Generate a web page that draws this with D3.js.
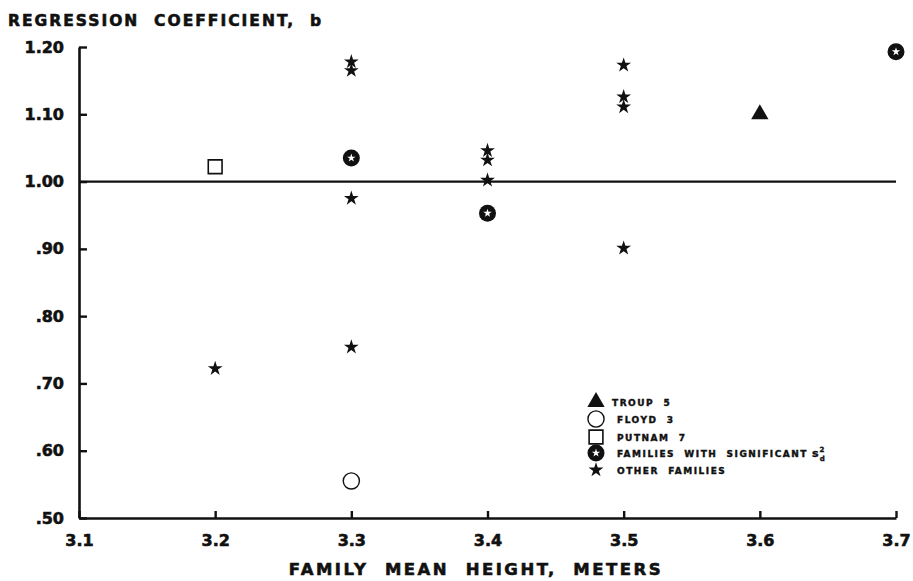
<!DOCTYPE html>
<html>
<head>
<meta charset="utf-8">
<script src="https://cdn.jsdelivr.net/npm/d3@7"></script>
<style>
  html, body { margin: 0; padding: 0; background: #fff; }
  svg { display: block; }
  text { font-family: "DejaVu Sans", sans-serif; font-weight: bold; fill: #111; stroke: #111; stroke-width: 0.6px; }
</style>
</head>
<body>
<svg id="chart" width="913" height="581"></svg>
<script>
// Regression coefficient b against family mean height (m)
const xTicks = [3.1, 3.2, 3.3, 3.4, 3.5, 3.6, 3.7];
const yTicks = [0.5, 0.6, 0.7, 0.8, 0.9, 1.0, 1.1, 1.2];

// Individual families
const troup5 = [[3.6, 1.10]];
const floyd3 = [[3.3, 0.555]];
const putnam7 = [[3.2, 1.022]];
// Families with significant deviation variance s²d
const significantFamilies = [[3.3, 1.035], [3.4, 0.953], [3.7, 1.193]];
// All remaining families
const otherFamilies = [
  [3.2, 0.722],
  [3.3, 1.178], [3.3, 1.165], [3.3, 0.975], [3.3, 0.754],
  [3.4, 1.046], [3.4, 1.032], [3.4, 1.002],
  [3.5, 1.173], [3.5, 1.126], [3.5, 1.111], [3.5, 0.901]
];
const referenceB = 1.0;

const legendLabels = ["TROUP  5", "FLOYD  3", "PUTNAM  7", "FAMILIES  WITH  SIGNIFICANT", "OTHER  FAMILIES"];

const svg = d3.select("#chart");
const x = d3.scaleLinear().domain([3.1, 3.7]).range([79, 896]);
const y = d3.scaleLinear().domain([0.5, 1.2]).range([518, 47]);

const ink = "#111";
const font = "'DejaVu Sans', sans-serif";

// Axes
const yAxis = d3.axisLeft(y)
  .tickValues(yTicks)
  .tickFormat(v => v >= 1 ? v.toFixed(2) : v.toFixed(2).replace(/^0/, ""))
  .tickSizeInner(-8).tickSizeOuter(0).tickPadding(15);
const xAxis = d3.axisBottom(x)
  .tickValues(xTicks)
  .tickFormat(d3.format(".1f"))
  .tickSizeInner(-7).tickSizeOuter(0).tickPadding(17);

const gy = svg.append("g").attr("transform", `translate(${x(3.1)},0)`).call(yAxis);
const gx = svg.append("g").attr("transform", `translate(0,${y(0.5)})`).call(xAxis);
[gx, gy].forEach(g => {
  g.select(".domain").attr("stroke", ink).attr("stroke-width", 2.6);
  g.selectAll(".tick line").attr("stroke", ink).attr("stroke-width", 2.4);
  g.selectAll(".tick text").attr("fill", ink).attr("stroke", ink).attr("stroke-width", 0.7)
    .style("font-family", font)
    .style("font-weight", "bold").style("font-size", "16px");
});

// Reference line at b = 1.00
svg.append("line")
  .attr("x1", x(3.1)).attr("x2", x(3.7))
  .attr("y1", y(referenceB)).attr("y2", y(referenceB))
  .attr("stroke", ink).attr("stroke-width", 2.2);

// Marker drawers
const star = d3.symbol().type(d3.symbolStar).size(68);
const innerStar = d3.symbol().type(d3.symbolStar).size(22);
const tri = d3.symbol().type(d3.symbolTriangle).size(130);
const sq = d3.symbol().type(d3.symbolSquare).size(190);
const circ = d3.symbol().type(d3.symbolCircle).size(205);

function drawTriangle(g) { g.append("path").attr("d", tri()).attr("fill", ink); }
function drawCircle(g) { g.append("path").attr("d", circ()).attr("fill", "#fff").attr("stroke", ink).attr("stroke-width", 1.4); }
function drawSquare(g) { g.append("path").attr("d", sq()).attr("fill", "#fff").attr("stroke", ink).attr("stroke-width", 1.6); }
function drawSignificant(g) {
  g.append("circle").attr("r", 8.5).attr("fill", ink);
  g.append("path").attr("d", innerStar()).attr("fill", "#fff");
}
function drawStar(g) { g.append("path").attr("d", star()).attr("fill", ink); }

function plot(data, drawer) {
  svg.append("g").selectAll("g").data(data).join("g")
    .attr("transform", d => `translate(${x(d[0])},${y(d[1])})`)
    .each(function () { drawer(d3.select(this)); });
}
plot(otherFamilies, drawStar);
plot(significantFamilies, drawSignificant);
plot(putnam7, drawSquare);
plot(floyd3, drawCircle);
plot(troup5, drawTriangle);

// Legend
const drawers = [drawTriangle, drawCircle, drawSquare, drawSignificant, drawStar];
const legendY = [402, 419, 437, 453, 470];
const legend = svg.append("g");
drawers.forEach((fn, i) => {
  const g = legend.append("g").attr("transform", `translate(596,${legendY[i]})`);
  fn(g);
  const t = legend.append("text")
    .attr("x", i === 0 ? 612 : 617).attr("y", legendY[i] + 4)
    .style("font-size", "9px").style("letter-spacing", "1.5px").style("stroke-width", "0.4px")
    .attr("xml:space", "preserve")
    .text(legendLabels[i]);
  if (i === 3) {
    t.append("tspan").attr("dx", 4).style("font-size", "11px").style("letter-spacing", "0").text("s");
    t.append("tspan").attr("dx", 1).attr("dy", -5).style("font-size", "7px").style("letter-spacing", "0").text("2");
    t.append("tspan").attr("dx", -4.5).attr("dy", 9).style("font-size", "7px").style("letter-spacing", "0").text("d");
  }
});

// Axis titles
svg.append("text")
  .attr("x", 8).attr("y", 26)
  .attr("xml:space", "preserve")
  .style("font-size", "15.5px").style("letter-spacing", "2px")
  .text("REGRESSION  COEFFICIENT,  b");

svg.append("text")
  .attr("x", 476).attr("y", 575)
  .attr("text-anchor", "middle")
  .attr("xml:space", "preserve")
  .style("font-size", "16.5px").style("letter-spacing", "2.5px")
  .text("FAMILY  MEAN  HEIGHT,  METERS");
</script>
</body>
</html>
